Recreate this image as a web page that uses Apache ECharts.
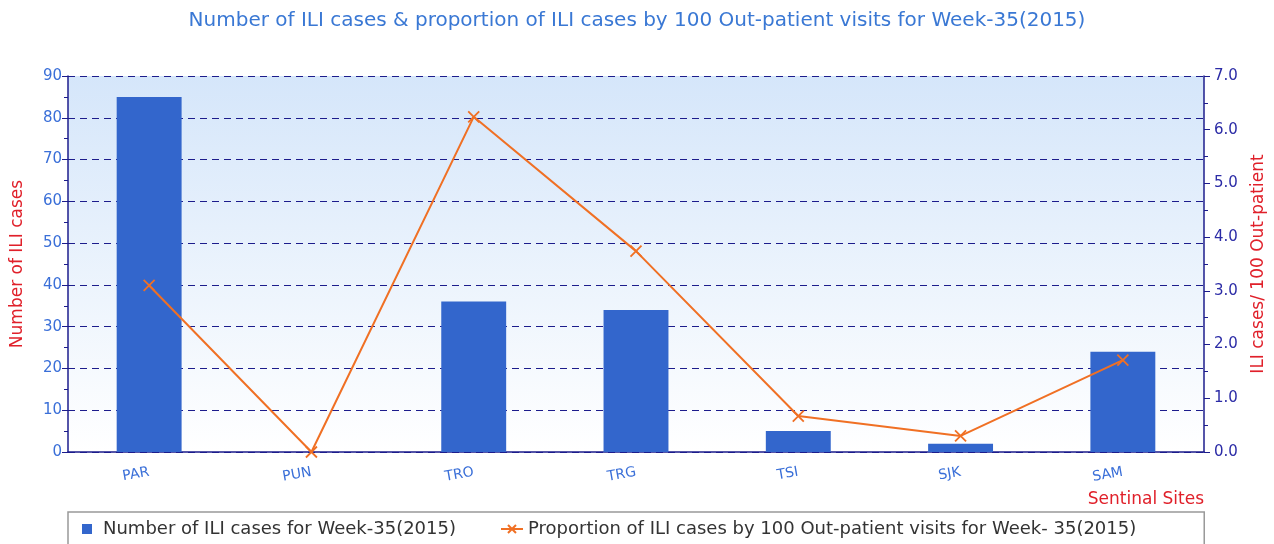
<!DOCTYPE html>
<html>
<head>
<meta charset="utf-8">
<script src="https://cdn.jsdelivr.net/npm/echarts@6/dist/echarts.min.js"></script>
<style>
  html, body { margin: 0; padding: 0; background: #fff; }
  #chart { width: 1274px; height: 544px; }
</style>
</head>
<body>
<div id="chart"></div>
<script>
const sites = ['PAR', 'PUN', 'TRO', 'TRG', 'TSI', 'SJK', 'SAM']
const iliCases = [85, 0, 36, 34, 5, 2, 24]
const iliPer100 = [3.1, 0, 6.24, 3.74, 0.67, 0.3, 1.71]

const chart = echarts.init(document.getElementById('chart'))
const font = '"DejaVu Sans", sans-serif'
const axisBlue = '#1c1c8c'

const option = {
  animation: false,
  textStyle: { fontFamily: font },
  title: {
    text: 'Number of ILI cases & proportion of ILI cases by 100 Out-patient visits for Week-35(2015)',
    left: 'center',
    top: 6,
    textStyle: { color: '#3a78d4', fontSize: 20, fontWeight: 'normal', fontFamily: font },
  },
  legend: {
    left: 68,
    top: 512,
    padding: [8, 68, 12, 14],
    itemGap: 44,
    borderColor: '#999',
    borderWidth: 1.5,
    itemWidth: 22,
    itemHeight: 10,
    textStyle: { color: '#333', fontSize: 18, fontFamily: font },
    data: [
      { name: 'Number of ILI cases for Week-35(2015)', icon: 'path://M0,0h10v10h-10z', itemStyle: { color: '#3366cc' } },
      { name: 'Proportion of ILI cases by 100 Out-patient visits for Week- 35(2015)' },
    ],
  },
  grid: {
    left: 68,
    right: 70,
    top: 76,
    bottom: 92,
    outerBoundsMode: 'none',
    show: true,
    borderWidth: 0,
    backgroundColor: new echarts.graphic.LinearGradient(0, 0, 0, 1, [
      { offset: 0, color: '#d5e6fa' },
      { offset: 1, color: '#ffffff' },
    ]),
  },
  xAxis: {
    type: 'category',
    data: sites,
    name: 'Sentinal Sites',
    nameLocation: 'end',
    nameGap: 0,
    nameTextStyle: {
      color: '#e0202a',
      fontSize: 17,
      fontFamily: font,
      align: 'right',
      verticalAlign: 'top',
      padding: [39, 0, 0, 0],
    },
    axisLine: { lineStyle: { color: axisBlue, width: 1.5 } },
    axisTick: { lineStyle: { color: axisBlue }, length: 7 },
    axisLabel: { color: '#3a6fd8', fontSize: 14, fontFamily: font, rotate: 10, margin: 20 },
  },
  yAxis: [
    {
      type: 'value',
      min: 0,
      max: 90,
      interval: 10,
      name: 'Number of ILI cases',
      nameLocation: 'middle',
      nameGap: 42,
      nameTextStyle: { color: '#e0202a', fontSize: 17, fontFamily: font },
      axisLine: { show: true, lineStyle: { color: axisBlue, width: 1.5 } },
      axisTick: { show: true, lineStyle: { color: axisBlue }, length: 6 },
      minorTick: { show: true, splitNumber: 2, length: 4, lineStyle: { color: axisBlue } },
      axisLabel: { color: '#3a6fd8', fontSize: 15, fontFamily: font, margin: 6 },
      splitLine: { show: true, lineStyle: { color: axisBlue, type: [7, 5], width: 1.2 } },
    },
    {
      type: 'value',
      min: 0,
      max: 7,
      interval: 1,
      name: 'ILI cases/ 100 Out-patient',
      nameLocation: 'middle',
      nameGap: 46,
      nameRotate: 90,
      nameTextStyle: { color: '#e0202a', fontSize: 17, fontFamily: font },
      axisLine: { show: true, lineStyle: { color: axisBlue, width: 1.5 } },
      axisTick: { show: true, lineStyle: { color: axisBlue }, length: 6 },
      minorTick: { show: true, splitNumber: 2, length: 4, lineStyle: { color: axisBlue } },
      axisLabel: { color: '#2b2ba6', fontSize: 15, fontFamily: font, margin: 10, formatter: v => v.toFixed(1) },
      splitLine: { show: false },
    },
  ],
  series: [
    {
      name: 'Number of ILI cases for Week-35(2015)',
      type: 'bar',
      data: iliCases,
      barWidth: '40%',
      itemStyle: { color: '#3366cc' },
    },
    {
      name: 'Proportion of ILI cases by 100 Out-patient visits for Week- 35(2015)',
      type: 'line',
      yAxisIndex: 1,
      data: iliPer100,
      symbol: 'path://M0,0L10,10M10,0L0,10',
      symbolSize: 11,
      lineStyle: { color: '#f07024', width: 2 },
      itemStyle: { color: '#f07024', borderColor: '#f07024', borderWidth: 1.8 },
    },
  ],
}

chart.setOption(option)
</script>
</body>
</html>
